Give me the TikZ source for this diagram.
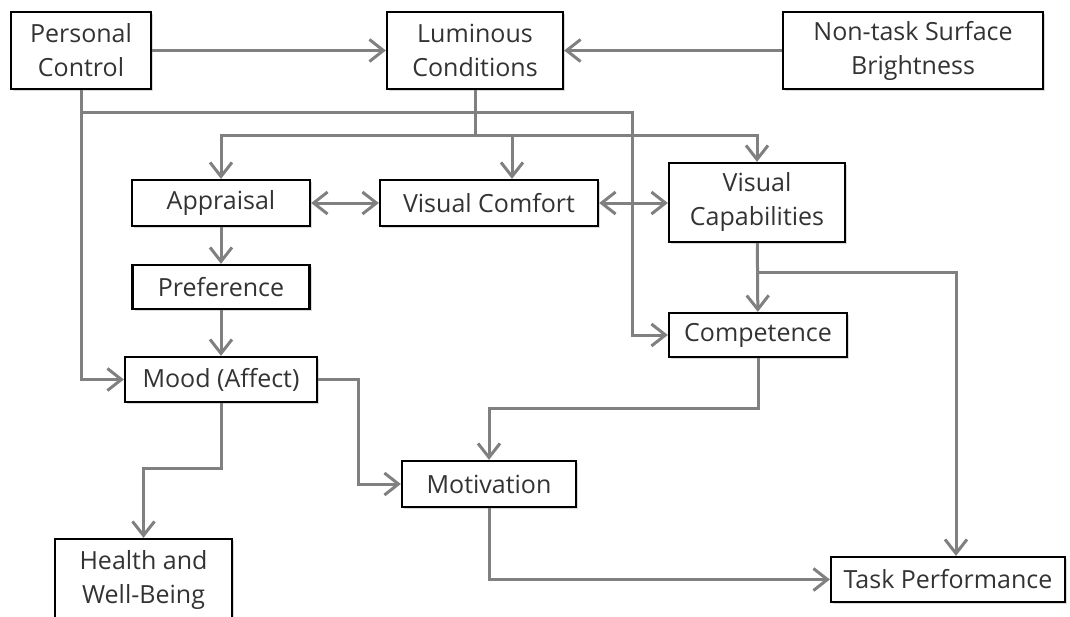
\documentclass[tikz,border=0pt]{standalone}
\usepackage{fontspec}
\setmainfont{Open Sans}
\usetikzlibrary{arrows.meta,shadows}
\definecolor{linkgray}{RGB}{128,128,128}

\begin{document}
\begin{tikzpicture}[x=1pt,y=-1pt,
	box/.style={draw=black,line width=2.3pt,fill=white,align=center,inner sep=0pt,text=black!80,
		font=\fontsize{25}{34}\selectfont,
		drop shadow={opacity=0.3,shadow xshift=2pt,shadow yshift=-2pt}},
	link/.style={draw=linkgray,line width=3pt},
	arr/.style={link,-{Straight Barb[length=14pt,width=22pt]}},
	biarr/.style={link,{Straight Barb[length=14pt,width=22pt]}-{Straight Barb[length=14pt,width=22pt]}}]
	\useasboundingbox (0,0) rectangle (1070,616);
	
	\node[box,minimum width=140pt,minimum height=77pt] (pc) at (81,50.5) {Personal\\Control};
	\node[box,minimum width=176pt,minimum height=77pt] (lc) at (475,50.5) {Luminous\\Conditions};
	\node[box,minimum width=260pt,minimum height=77pt] (nt) at (913,50.5) {Non-task Surface\\Brightness};
	\node[box,minimum width=178pt,minimum height=46pt] (ap) at (221,203) {Appraisal};
	\node[box,minimum width=218pt,minimum height=46pt] (vc) at (489,203) {Visual Comfort};
	\node[box,minimum width=176pt,minimum height=79pt] (vcap) at (757,202.5) {Visual\\Capabilities};
	\node[box,minimum width=177pt,minimum height=44pt] (pref) at (221,287) {Preference};
	\node[box,minimum width=178pt,minimum height=44pt] (comp) at (758,335) {Competence};
	\node[box,minimum width=192pt,minimum height=45pt] (mood) at (221,379.5) {Mood (Affect)};
	\node[box,minimum width=174pt,minimum height=46pt] (mot) at (489,484) {Motivation};
	\node[box,minimum width=177pt,minimum height=82pt] (hw) at (143.5,580) {Health and\\Well-Being};
	\node[box,minimum width=234pt,minimum height=45pt] (tp) at (948,579.5) {Task Performance};
	
	\coordinate (pcj) at (81,112);
	\coordinate (ccol) at (632,112);
	\coordinate (lcj) at (475,135);
	\coordinate (vctop) at (512,135);
	\coordinate (vcapj) at (757,272);
	\coordinate (tpcol) at (956,272);
	\coordinate (cmj) at (758,408);
	\coordinate (mmcol) at (358,379.5);
	\coordinate (mhj) at (221,468);
	
	\draw[arr] (pc) -- (lc);
	\draw[arr] (nt) -- (lc);
	\draw[arr] (pc.south) |- (mood.west);
	\draw[arr] (pcj) -- (ccol) |- (comp.west);
	
	\draw[link] (lc.south) -- (lcj);
	\draw[arr] (lcj) -| (ap.north);
	\draw[arr] (lcj) -| (vcap.north);
	\draw[arr] (vctop) -- (vctop |- vc.north);
	
	\draw[biarr] (ap) -- (vc);
	\draw[biarr] (vc) -- (vc.east -| vcap.west);
	\draw[arr] (ap) -- (pref);
	\draw[arr] (pref) -- (mood);
	\draw[arr] (vcap) -- (comp);
	\draw[arr] (vcapj) -- (tpcol) -- (tpcol |- tp.north);
	
	\draw[arr] (mood.east) -- (mmcol) |- (mot.west);
	\draw[arr] (mood.south) -- (mhj) -| (hw.north);
	\draw[arr] (comp.south) -- (cmj) -| (mot.north);
	\draw[arr] (mot.south) |- (tp.west);
\end{tikzpicture}
\end{document}
